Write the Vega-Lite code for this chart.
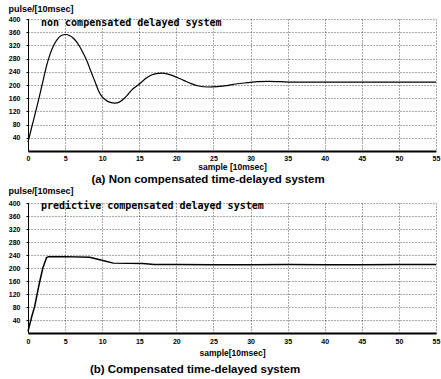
{
  "$schema": "https://vega.github.io/schema/vega-lite/v6.json",
  "background": "white",
  "padding": {"left": 8, "top": 4, "right": 3, "bottom": 2},
  "bounds": "flush",
  "spacing": 52,
  "config": {
    "view": {"stroke": null},
    "font": "Liberation Sans",
    "axis": {
      "labelFont": "Liberation Sans",
      "labelFontWeight": "bold",
      "labelFontSize": 7,
      "labelColor": "black",
      "labelOverlap": false,
      "labelFlush": false,
      "titleFont": "Liberation Sans",
      "titleFontWeight": "bold",
      "titleColor": "black",
      "gridColor": "black",
      "gridDash": [1, 2],
      "gridOpacity": 0.85,
      "gridWidth": 0.8,
      "domainColor": "black",
      "tickColor": "black"
    },
    "title": {"color": "black", "font": "Liberation Sans", "fontWeight": "bold"}
  },
  "datasets": {
    "a": [
      {"x": 0, "y": 27}, {"x": 0.5, "y": 72}, {"x": 1, "y": 116}, {"x": 1.5, "y": 162},
      {"x": 2, "y": 210}, {"x": 2.5, "y": 258}, {"x": 3, "y": 295}, {"x": 3.5, "y": 322},
      {"x": 4, "y": 340}, {"x": 4.5, "y": 350}, {"x": 5.1, "y": 353}, {"x": 5.6, "y": 350},
      {"x": 6, "y": 344}, {"x": 6.5, "y": 332}, {"x": 7, "y": 315}, {"x": 7.5, "y": 294},
      {"x": 8, "y": 270}, {"x": 8.5, "y": 240}, {"x": 9, "y": 212}, {"x": 9.6, "y": 178},
      {"x": 10, "y": 164}, {"x": 10.5, "y": 154}, {"x": 11, "y": 148}, {"x": 11.7, "y": 145},
      {"x": 12.3, "y": 148}, {"x": 13, "y": 160}, {"x": 13.5, "y": 172}, {"x": 14, "y": 185},
      {"x": 14.8, "y": 199}, {"x": 15.5, "y": 213}, {"x": 16, "y": 222}, {"x": 16.5, "y": 229},
      {"x": 17, "y": 233}, {"x": 18, "y": 236}, {"x": 19, "y": 232}, {"x": 20, "y": 224},
      {"x": 21, "y": 214}, {"x": 22, "y": 204}, {"x": 23, "y": 197}, {"x": 24.3, "y": 194},
      {"x": 25.5, "y": 195}, {"x": 27, "y": 199}, {"x": 28, "y": 203}, {"x": 29.6, "y": 207},
      {"x": 31, "y": 210}, {"x": 32.5, "y": 211}, {"x": 34, "y": 210}, {"x": 36, "y": 209},
      {"x": 40, "y": 209}, {"x": 45, "y": 209}, {"x": 50, "y": 209}, {"x": 55, "y": 209}
    ],
    "b": [
      {"x": 0, "y": 5}, {"x": 0.5, "y": 50}, {"x": 0.9, "y": 82}, {"x": 1.5, "y": 150},
      {"x": 2, "y": 200}, {"x": 2.5, "y": 232}, {"x": 2.8, "y": 235}, {"x": 5, "y": 235},
      {"x": 8.3, "y": 233}, {"x": 9, "y": 229}, {"x": 10.1, "y": 223}, {"x": 11.5, "y": 215},
      {"x": 15.5, "y": 214}, {"x": 17, "y": 211}, {"x": 20, "y": 211}, {"x": 25, "y": 210},
      {"x": 30, "y": 210}, {"x": 35, "y": 211}, {"x": 40, "y": 210}, {"x": 45, "y": 210},
      {"x": 50, "y": 211}, {"x": 55, "y": 211}
    ],
    "la": [{"x": 1.75, "y": 388, "t": "non compensated delayed system"}],
    "lb": [{"x": 1.75, "y": 390, "t": "predictive compensated delayed system"}]
  },
  "vconcat": [
    {
      "width": 408,
      "height": 132,
      "title": {"text": "(a)  Non compensated time-delayed system", "orient": "bottom", "anchor": "middle", "fontSize": 11.5, "dx": -24, "offset": 3},
      "layer": [
        {
          "data": {"name": "a"},
          "mark": {"type": "line", "color": "black", "strokeWidth": 1.2, "interpolate": "monotone"},
          "encoding": {
            "x": {"field": "x", "type": "quantitative", "scale": {"domain": [0, 55], "nice": false},
              "axis": {"values": [0,5,10,15,20,25,30,35,40,45,50,55], "tickCount": 12, "title": "sample [10msec]", "titleFontSize": 8.5, "titlePadding": 1, "labelPadding": 3, "tickSize": 0, "domainWidth": 2}},
            "y": {"field": "y", "type": "quantitative", "scale": {"domain": [0, 400], "nice": false},
              "axis": {"values": [40,80,120,160,200,240,280,320,360,400], "tickCount": 10, "title": "pulse/[10msec]", "titleAngle": 0, "titleAlign": "left", "titleBaseline": "middle", "titleX": -20, "titleY": -11, "titleFontSize": 9, "labelPadding": 6, "tickSize": 2}}
          }
        },
        {
          "data": {"name": "la"},
          "mark": {"type": "text", "align": "left", "baseline": "middle", "font": "DejaVu Sans Mono", "fontWeight": "bold", "fontSize": 10, "color": "black"},
          "encoding": {
            "x": {"field": "x", "type": "quantitative"},
            "y": {"field": "y", "type": "quantitative"},
            "text": {"field": "t"}
          }
        }
      ]
    },
    {
      "width": 408,
      "height": 130,
      "title": {"text": "(b)  Compensated time-delayed system", "orient": "bottom", "anchor": "middle", "fontSize": 11.5, "dx": -37, "offset": 7},
      "layer": [
        {
          "data": {"name": "b"},
          "mark": {"type": "line", "color": "black", "strokeWidth": 1.5},
          "encoding": {
            "x": {"field": "x", "type": "quantitative", "scale": {"domain": [0, 55], "nice": false},
              "axis": {"values": [0,5,10,15,20,25,30,35,40,45,50,55], "tickCount": 12, "title": "sample[10msec]", "titleFontSize": 8.5, "titlePadding": 4, "labelPadding": 4, "tickSize": 0, "domainWidth": 2}},
            "y": {"field": "y", "type": "quantitative", "scale": {"domain": [0, 400], "nice": false},
              "axis": {"values": [40,80,120,160,200,240,280,320,360,400], "tickCount": 10, "title": "pulse/[10msec]", "titleAngle": 0, "titleAlign": "left", "titleBaseline": "middle", "titleX": -20, "titleY": -13, "titleFontSize": 9, "labelPadding": 6, "tickSize": 2}}
          }
        },
        {
          "data": {"name": "lb"},
          "mark": {"type": "text", "align": "left", "baseline": "middle", "font": "DejaVu Sans Mono", "fontWeight": "bold", "fontSize": 10, "color": "black"},
          "encoding": {
            "x": {"field": "x", "type": "quantitative"},
            "y": {"field": "y", "type": "quantitative"},
            "text": {"field": "t"}
          }
        }
      ]
    }
  ]
}
